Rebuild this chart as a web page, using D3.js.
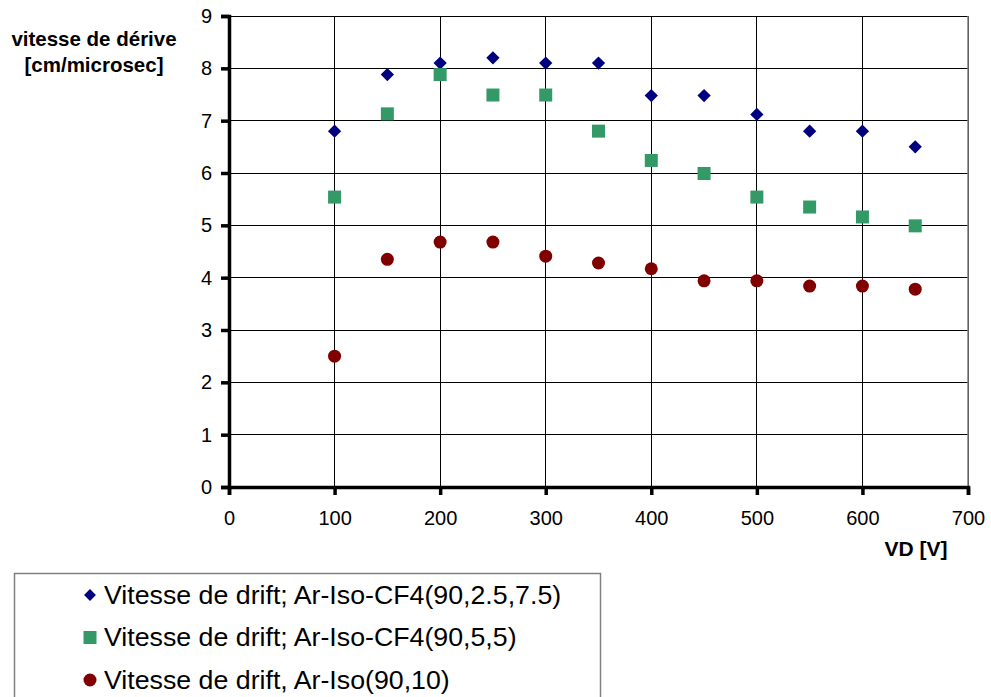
<!DOCTYPE html>
<html>
<head>
<meta charset="utf-8">
<script src="https://cdn.jsdelivr.net/npm/d3@7"></script>
<style>
  body { margin: 0; background: #fff; }
  svg text { font-family: "Liberation Sans", Arial, sans-serif; }
</style>
</head>
<body>
<div id="chart"></div>
<script>
// --- données ---
const voltages = [100, 150, 200, 250, 300, 350, 400, 450, 500, 550, 600, 650];
const vitesseCF4_25_75 = [6.80, 7.88, 8.10, 8.20, 8.10, 8.10, 7.48, 7.48, 7.12, 6.80, 6.80, 6.50];
const vitesseCF4_5_5 = [5.54, 7.13, 7.88, 7.49, 7.49, 6.80, 6.24, 5.99, 5.54, 5.35, 5.16, 4.99];
const vitesseIso_10 = [2.50, 4.35, 4.68, 4.68, 4.41, 4.28, 4.17, 3.94, 3.94, 3.84, 3.84, 3.78];
const seriesNames = [
    "Vitesse de drift; Ar-Iso-CF4(90,2.5,7.5)",
    "Vitesse de drift; Ar-Iso-CF4(90,5,5)",
    "Vitesse de drift, Ar-Iso(90,10)"
];
const xTicks = [0, 100, 200, 300, 400, 500, 600, 700];
const yTicks = [0, 1, 2, 3, 4, 5, 6, 7, 8, 9];

// losange = carré tourné de 45°
const series = [
    {name: seriesNames[0], values: vitesseCF4_25_75, shape: d3.symbolSquare, rotate: 45, color: "#000080", size: 88},
    {name: seriesNames[1], values: vitesseCF4_5_5, shape: d3.symbolSquare, rotate: 0, color: "#339966", size: 169},
    {name: seriesNames[2], values: vitesseIso_10, shape: d3.symbolCircle, rotate: 0, color: "#800000", size: 133}
];

const width = 991, height = 697;
const plot = {left: 229, right: 968, top: 16, bottom: 487};

const svg = d3.select("#chart").append("svg")
    .attr("width", width)
    .attr("height", height);

const xScale = d3.scaleLinear().domain([0, 700]).range([plot.left, plot.right]);
const yScale = d3.scaleLinear().domain([0, 9]).range([plot.bottom, plot.top]);

// grille
svg.append("g").selectAll("line")
    .data(yTicks.slice(1))
    .join("line")
    .attr("x1", plot.left).attr("x2", plot.right)
    .attr("y1", d => yScale(d)).attr("y2", d => yScale(d))
    .attr("stroke", "#000").attr("stroke-width", 1)
    .attr("shape-rendering", "crispEdges");
svg.append("g").selectAll("line")
    .data(xTicks.slice(1))
    .join("line")
    .attr("x1", d => xScale(d)).attr("x2", d => xScale(d))
    .attr("y1", plot.top).attr("y2", plot.bottom)
    .attr("stroke", "#000").attr("stroke-width", 1)
    .attr("shape-rendering", "crispEdges");
svg.append("line")
    .attr("x1", plot.right).attr("x2", plot.right)
    .attr("y1", plot.top).attr("y2", plot.bottom)
    .attr("stroke", "#808080").attr("stroke-width", 1.5);

// axes
const xAxis = svg.append("g")
    .attr("transform", "translate(0," + plot.bottom + ")")
    .call(d3.axisBottom(xScale).tickValues(xTicks).tickSize(8).tickPadding(16));
const yAxis = svg.append("g")
    .attr("transform", "translate(" + plot.left + ",0)")
    .call(d3.axisLeft(yScale).tickValues(yTicks).tickSize(8).tickPadding(9));
[xAxis, yAxis].forEach(ax => {
    ax.select(".domain").attr("stroke", "#000").attr("stroke-width", 3.5);
    ax.selectAll(".tick line").attr("stroke", "#000").attr("stroke-width", 3.5);
    ax.selectAll(".tick text").attr("fill", "#000").style("font-size", "20px");
});

// points
series.forEach(s => {
    svg.append("g").selectAll("path")
        .data(s.values.map((v, i) => ({x: voltages[i], y: v})))
        .join("path")
        .attr("d", d3.symbol().type(s.shape).size(s.size))
        .attr("transform", d => "translate(" + xScale(d.x) + "," + yScale(d.y) + ") rotate(" + s.rotate + ")")
        .attr("fill", s.color);
});

// titres des axes
svg.append("text")
    .attr("x", 94).attr("y", 46)
    .attr("text-anchor", "middle")
    .style("font-size", "20.5px").style("font-weight", "bold")
    .text("vitesse de dérive");
svg.append("text")
    .attr("x", 94).attr("y", 72)
    .attr("text-anchor", "middle")
    .style("font-size", "20.5px").style("font-weight", "bold")
    .text("[cm/microsec]");
svg.append("text")
    .attr("x", 916).attr("y", 556)
    .attr("text-anchor", "middle")
    .style("font-size", "21px").style("font-weight", "bold")
    .text("VD [V]");

// légende
svg.append("rect")
    .attr("x", 14.5).attr("y", 573.5)
    .attr("width", 586).attr("height", 140)
    .attr("fill", "none").attr("stroke", "#808080").attr("stroke-width", 1.5);
const legend = svg.append("g").selectAll("g")
    .data(series)
    .join("g")
    .attr("transform", (d, i) => "translate(90," + (595 + i * 42.5) + ")");
legend.append("path")
    .attr("d", d => d3.symbol().type(d.shape).size(d.rotate ? d.size * 0.8 : d.size)())
    .attr("transform", d => "rotate(" + d.rotate + ")")
    .attr("fill", d => d.color);
legend.append("text")
    .attr("transform", "translate(14,8.5) scale(1.07,1)")
    .style("font-size", "25px")
    .text(d => d.name);
</script>
</body>
</html>
